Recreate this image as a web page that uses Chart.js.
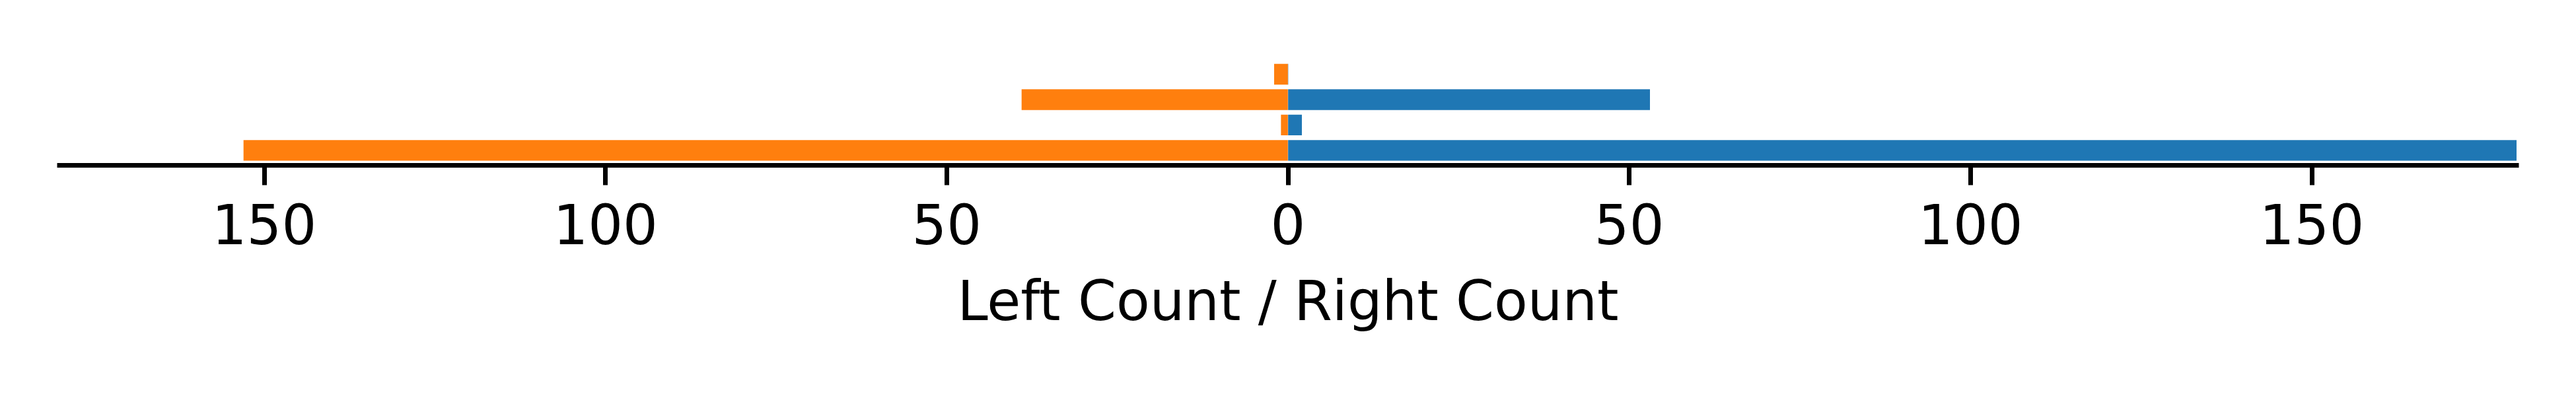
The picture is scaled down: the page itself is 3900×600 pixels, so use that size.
<!DOCTYPE html>
<html>
<head>
<meta charset="utf-8">
<script src="https://cdn.jsdelivr.net/npm/chart.js@4/dist/chart.umd.min.js"></script>
<style>
  body { margin: 0; background: #fff; }
  canvas { display: block; }
</style>
</head>
<body>
<canvas id="countChart" width="3900" height="600"></canvas>
<script>
// rows go bottom to top, like matplotlib barh
const rows = [0, 1, 2, 3];
const leftCount = [153, 1, 39, 2];
const rightCount = [180, 2, 53, 0];
const xTicks = [-150, -100, -50, 0, 50, 100, 150];

Chart.defaults.font.family = "'DejaVu Sans', sans-serif";
Chart.defaults.color = '#000';

// bottom spine, drawn from the x scale's own min/max pixels
const axisLine = {
  id: 'axisLine',
  afterDraw(chart) {
    const x = chart.scales.x;
    const ctx = chart.ctx;
    ctx.save();
    ctx.strokeStyle = '#000';
    ctx.lineWidth = 7;
    ctx.beginPath();
    ctx.moveTo(x.getPixelForValue(x.min) - 3.5, x.top);
    ctx.lineTo(x.getPixelForValue(x.max) + 3.5, x.top);
    ctx.stroke();
    ctx.restore();
  },
};

const data = {
  datasets: [
    {
      label: 'Left Count',
      backgroundColor: '#ff7f0e',
      data: rows.map((r, i) => ({ x: -leftCount[i], y: r })),
    },
    {
      label: 'Right Count',
      backgroundColor: '#1f77b4',
      data: rows.map((r, i) => ({ x: rightCount[i], y: r })),
    },
  ],
};

const config = {
  type: 'bar',
  data: data,
  plugins: [axisLine],
  options: {
    indexAxis: 'y',
    responsive: false,
    animation: false,
    devicePixelRatio: 1,
    grouped: false,
    categoryPercentage: 1,
    barPercentage: 0.8,
    inflateAmount: 0.33,
    layout: {
      // x axis box gets capped at half the height, so bottom pad sets the plot bottom
      padding: { top: 0, left: 90, right: 90, bottom: 99 },
    },
    plugins: {
      legend: { display: false },
      tooltip: { enabled: false },
    },
    scales: {
      y: {
        type: 'linear',
        display: false,
        offset: false,
        grace: 0,
        min: -0.59,
        max: 5.93,
        afterBuildTicks: (scale) => {
          scale.ticks = rows.map((v) => ({ value: v }));
        },
      },
      x: {
        type: 'linear',
        min: -180,
        max: 180,
        afterBuildTicks: (scale) => {
          scale.ticks = xTicks.map((v) => ({ value: v }));
        },
        grid: {
          drawOnChartArea: false,
          drawTicks: true,
          tickLength: 30,
          tickWidth: 7,
          tickColor: '#000',
        },
        border: { display: false },
        ticks: {
          padding: 18,
          font: { size: 83 },
          color: '#000',
          maxRotation: 0,
          autoSkip: false,
          callback: (v) => Math.abs(v),
        },
        title: {
          display: true,
          text: 'Left Count / Right Count',
          font: { size: 83, lineHeight: 0.9 },
          color: '#000',
          padding: { top: 20, bottom: 0 },
        },
      },
    },
  },
};

new Chart(document.getElementById('countChart'), config);
</script>
</body>
</html>
